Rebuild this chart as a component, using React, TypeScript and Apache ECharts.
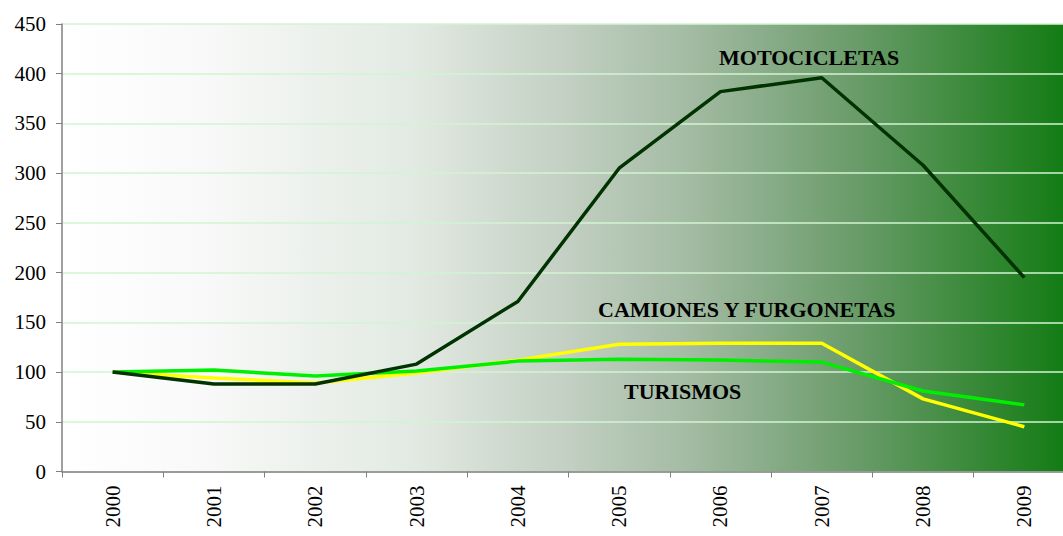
import React, { useEffect, useRef } from "react";
import * as echarts from "echarts";

const years = ["2000", "2001", "2002", "2003", "2004", "2005", "2006", "2007", "2008", "2009"];
const motocicletas = [100, 88, 88, 108, 171, 305, 382, 396, 308, 195];
const camiones = [100, 94, 89, 99, 112, 128, 129, 129, 73, 45];
const turismos = [100, 102, 96, 101, 111, 113, 112, 110, 81, 67];
const yTicks = { min: 0, max: 450, interval: 50 };

export default function App() {
  const ref = useRef<HTMLDivElement>(null);
  useEffect(() => {
    const chart = echarts.init(ref.current!, null, { renderer: "svg" });
    const font = "'Liberation Serif', 'Times New Roman', serif";
    chart.setOption({
      animation: false,
      backgroundColor: "#ffffff",
      grid: {
        left: 62,
        top: 24,
        right: 0,
        bottom: 64.5,
        show: true,
        borderWidth: 0,
        backgroundColor: new echarts.graphic.LinearGradient(0, 0, 1, 0, [
          { offset: 0, color: "#ffffff" },
          { offset: 0.15, color: "#f7f8f7" },
          { offset: 0.35, color: "#e2e9e2" },
          { offset: 0.5, color: "#c2cfc2" },
          { offset: 0.62, color: "#a3bba3" },
          { offset: 0.78, color: "#6b9c6b" },
          { offset: 1, color: "#0f7a0f" },
        ]),
      },
      xAxis: {
        type: "category",
        data: years,
        boundaryGap: true,
        axisLine: { lineStyle: { color: "#808080", width: 1.5 } },
        axisTick: { show: true, length: 6, lineStyle: { color: "#808080" } },
        axisLabel: { rotate: 90, color: "#000", fontFamily: font, fontSize: 21, margin: 14 },
        splitLine: { show: false },
      },
      yAxis: {
        type: "value",
        min: yTicks.min,
        max: yTicks.max,
        interval: yTicks.interval,
        axisLine: { show: true, lineStyle: { color: "#808080", width: 1.5 } },
        axisTick: { show: true, length: 6, lineStyle: { color: "#808080" } },
        axisLabel: { color: "#000", fontFamily: font, fontSize: 21, margin: 16 },
        splitLine: { show: true, lineStyle: { color: "#d2f5d2", width: 1.5 } },
      },
      series: [
        {
          name: "TURISMOS",
          type: "line",
          data: turismos,
          symbol: "none",
          lineStyle: { color: "#00ee00", width: 3.5 },
          z: 3,
        },
        {
          name: "CAMIONES Y FURGONETAS",
          type: "line",
          data: camiones,
          symbol: "none",
          lineStyle: { color: "#ffff00", width: 3.5 },
          z: 2,
        },
        {
          name: "MOTOCICLETAS",
          type: "line",
          data: motocicletas,
          symbol: "none",
          lineStyle: { color: "#003300", width: 3.5 },
          z: 4,
        },
      ],
      graphic: [
        {
          type: "text",
          x: 719,
          y: 57,
          style: { text: "MOTOCICLETAS", font: "bold 22px " + font, fill: "#000", verticalAlign: "middle" },
        },
        {
          type: "text",
          x: 598,
          y: 309,
          style: { text: "CAMIONES Y FURGONETAS", font: "bold 22px " + font, fill: "#000", verticalAlign: "middle" },
        },
        {
          type: "text",
          x: 624,
          y: 391,
          style: { text: "TURISMOS", font: "bold 22px " + font, fill: "#000", verticalAlign: "middle" },
        },
      ],
    });
    return () => chart.dispose();
  }, []);
  return (
    <div style={{ position: "fixed", left: 0, top: 0, width: 1063, height: 536, overflow: "hidden" }}>
      <div ref={ref} style={{ width: 1075, height: 536 }} />
    </div>
  );
}
